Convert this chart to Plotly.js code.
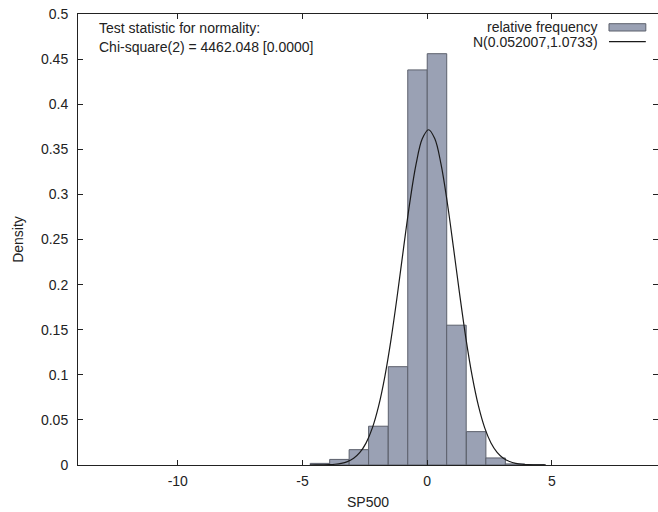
<!DOCTYPE html>
<html>
<head>
<meta charset="utf-8">
<script src="https://cdn.plot.ly/plotly-3.0.1.min.js"></script>
<style>html,body{margin:0;padding:0;background:#fff;}#chart{width:658px;height:512px;}</style>
</head>
<body>
<div id="chart"></div>
<script>
// Histogram bins (centers) and relative-frequency densities
const binCenters = [-4.30, -3.52, -2.74, -1.96, -1.17, -0.39, 0.39, 1.17, 1.96, 2.74, 3.52, 4.30];
const binWidth = 0.782;
const densities = [0.0018, 0.0062, 0.017, 0.043, 0.109, 0.438, 0.456, 0.155, 0.037, 0.0078, 0.0012, 0.0004];

// Fitted normal curve N(0.052007, 1.0733)
const curveX = [-4.70, -4.45, -4.20, -3.95, -3.70, -3.45, -3.20, -2.95, -2.70, -2.45, -2.20, -1.95, -1.70, -1.45, -1.20, -0.95, -0.70, -0.45, -0.20, 0.05, 0.30, 0.55, 0.80, 1.05, 1.30, 1.55, 1.80, 2.05, 2.30, 2.55, 2.80, 3.05, 3.30, 3.55, 3.80, 4.05, 4.30, 4.55, 4.75];
const curveY = [0.00002, 0.00006, 0.00015, 0.00036, 0.00083, 0.00181, 0.00377, 0.00743, 0.01389, 0.02455, 0.04114, 0.06527, 0.09809, 0.1396, 0.1882, 0.2404, 0.2908, 0.3332, 0.3616, 0.3717, 0.3619, 0.3338, 0.2916, 0.2413, 0.1891, 0.1404, 0.09869, 0.06572, 0.04145, 0.02477, 0.01402, 0.00752, 0.00382, 0.00183, 0.00084, 0.00036, 0.00015, 0.00006, 0.00003];

const legendLabels = ["relative frequency", "N(0.052007,1.0733)"];
const testLines = ["Test statistic for normality:", "Chi-square(2) = 4462.048 [0.0000]"];
const xTickVals = [-10, -5, 0, 5];
const xTickText = ["-10", "-5", "0", "5"];
const yTickVals = [0, 0.05, 0.1, 0.15, 0.2, 0.25, 0.3, 0.35, 0.4, 0.45, 0.5];
const yTickText = ["0", "0.05", "0.1", "0.15", "0.2", "0.25", "0.3", "0.35", "0.4", "0.45", "0.5"];
const xTitle = "SP500";
const yTitle = "Density";

const FONT = "Liberation Sans, Arial, Helvetica, sans-serif";
const TXT = "#222222";
const FS = 14;

const traces = [
  {
    type: "bar",
    x: binCenters,
    y: densities,
    width: binCenters.map(() => binWidth),
    marker: {color: "#9aa1b4", line: {color: "#5c606c", width: 1}},
    name: legendLabels[0],
    showlegend: false
  },
  {
    type: "scatter",
    mode: "lines",
    x: curveX,
    y: curveY,
    line: {color: "#1a1a1a", width: 1.2, shape: "spline"},
    name: legendLabels[1],
    showlegend: false
  }
];

const layout = {
  width: 658,
  height: 512,
  margin: {l: 78, r: 0, t: 14, b: 47},
  paper_bgcolor: "#ffffff",
  plot_bgcolor: "#ffffff",
  font: {family: FONT, size: FS, color: TXT},
  bargap: 0,
  xaxis: {
    range: [-14.0, 9.25],
    tickmode: "array",
    tickvals: xTickVals,
    ticktext: xTickText,
    ticks: "inside",
    ticklen: 5,
    tickcolor: "#222",
    showline: true,
    linecolor: "#222",
    linewidth: 1,
    mirror: "ticks",
    showgrid: false,
    zeroline: false,
    ticklabelstandoff: 3,
    tickfont: {family: FONT, size: FS, color: TXT},
    title: {text: xTitle, font: {family: FONT, size: FS, color: TXT}, standoff: 9}
  },
  yaxis: {
    range: [0, 0.5],
    tickmode: "array",
    tickvals: yTickVals,
    ticktext: yTickText,
    ticks: "inside",
    ticklen: 5,
    tickcolor: "#222",
    showline: true,
    linecolor: "#222",
    linewidth: 1,
    mirror: "ticks",
    showgrid: false,
    zeroline: false,
    ticklabelstandoff: 6,
    tickfont: {family: FONT, size: FS, color: TXT},
    title: {text: yTitle, font: {family: FONT, size: FS, color: TXT}, standoff: 14}
  },
  annotations: [
    {xref: "paper", yref: "paper", x: 0.033, y: 0.969, xanchor: "left", yanchor: "middle", showarrow: false, text: testLines[0], font: {family: FONT, size: FS, color: TXT}},
    {xref: "paper", yref: "paper", x: 0.033, y: 0.927, xanchor: "left", yanchor: "middle", showarrow: false, text: testLines[1], font: {family: FONT, size: FS, color: TXT}},
    {xref: "paper", yref: "paper", x: 0.90, y: 0.971, xanchor: "right", yanchor: "middle", showarrow: false, text: legendLabels[0], font: {family: FONT, size: FS, color: TXT}},
    {xref: "paper", yref: "paper", x: 0.90, y: 0.939, xanchor: "right", yanchor: "middle", showarrow: false, text: legendLabels[1], font: {family: FONT, size: FS, color: TXT}}
  ],
  shapes: [
    {type: "rect", xref: "paper", yref: "paper", x0: 0.9155, x1: 0.979, y0: 0.9623, y1: 0.9785, fillcolor: "#9aa1b4", line: {color: "#5c606c", width: 1}},
    {type: "line", xref: "paper", yref: "paper", x0: 0.9155, x1: 0.979, y0: 0.9386, y1: 0.9386, line: {color: "#1a1a1a", width: 1.2}}
  ]
};

Plotly.newPlot("chart", traces, layout, {displayModeBar: false, staticPlot: true});
</script>
</body>
</html>
